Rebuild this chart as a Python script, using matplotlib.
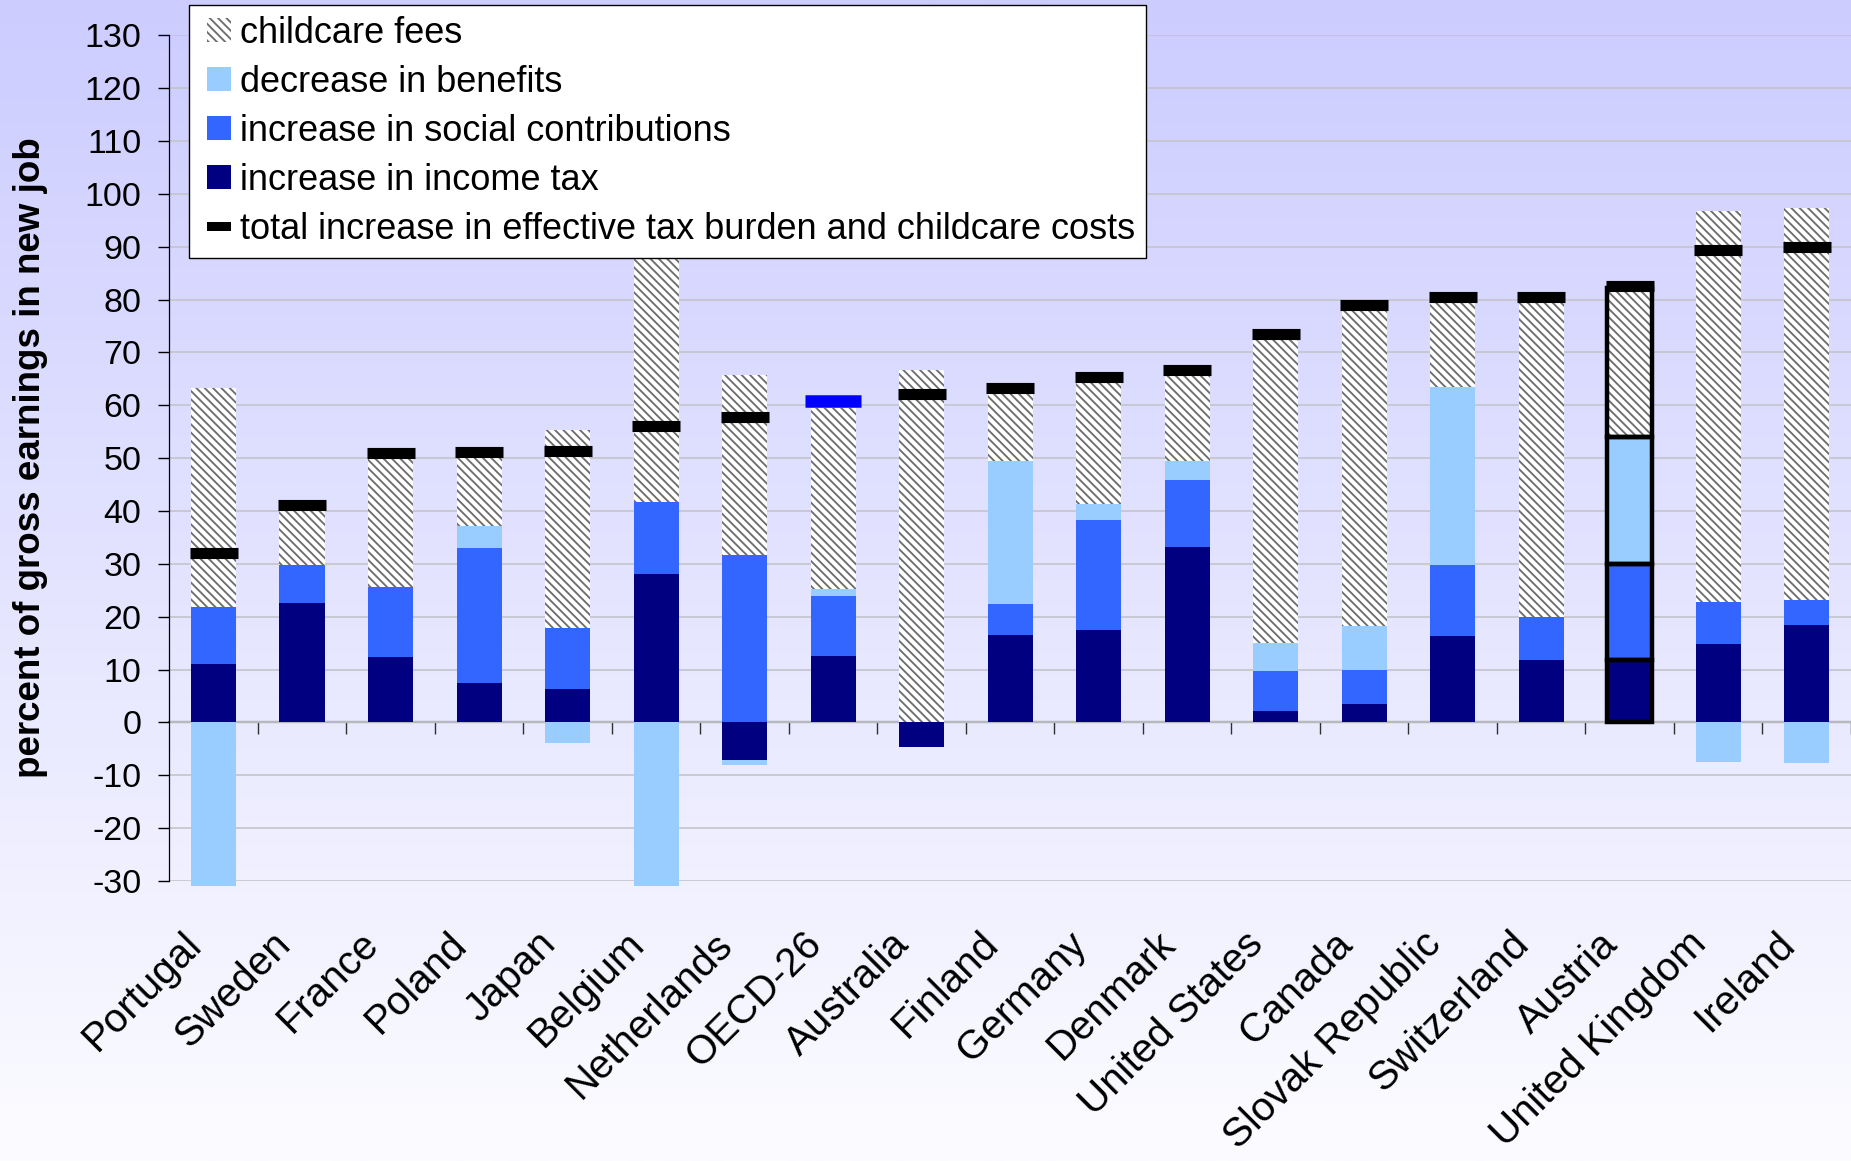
import numpy as np
import matplotlib
matplotlib.use('Agg')
import matplotlib.pyplot as plt
from matplotlib.patches import Patch, Rectangle
from matplotlib.legend_handler import HandlerPatch
from matplotlib.transforms import ScaledTranslation

plt.rcParams['font.family'] = ['Liberation Sans', 'DejaVu Sans']
plt.rcParams['hatch.linewidth'] = 1.35

# ---------------- data ----------------
countries = ['Portugal', 'Sweden', 'France', 'Poland', 'Japan', 'Belgium',
             'Netherlands', 'OECD-26', 'Australia', 'Finland', 'Germany',
             'Denmark', 'United States', 'Canada', 'Slovak Republic',
             'Switzerland', 'Austria', 'United Kingdom', 'Ireland']
income_tax = [11.0, 22.6, 12.3, 7.5, 6.4, 28.0, -7.2, 12.6, -4.7, 16.6, 17.5,
              33.2, 2.2, 3.5, 16.4, 11.9, 11.8, 14.8, 18.5]
social_contributions = [10.9, 7.1, 13.4, 25.5, 11.5, 13.7, 31.7, 11.4, 0.0, 5.8,
                        20.8, 12.7, 7.6, 6.4, 13.4, 8.1, 18.1, 7.9, 4.7]
decrease_benefits = [-31.0, 0.0, 0.0, 4.2, -3.9, -31.0, -0.9, 1.3, 0.0, 27.1,
                     3.0, 3.6, 5.3, 8.3, 33.6, 0.0, 24.1, -7.4, -7.6]
childcare_fees = [41.4, 10.4, 24.1, 13.0, 37.4, 47.8, 34.0, 34.2, 66.7, 12.8,
                  23.0, 16.0, 57.3, 59.6, 16.0, 59.4, 28.2, 74.0, 74.1]
total_increase = [32.1, 41.1, 50.9, 51.2, 51.4, 56.1, 57.7, 60.8, 62.1, 63.3,
                  65.4, 66.6, 73.5, 78.9, 80.5, 80.5, 82.6, 89.4, 89.9]
highlight_country = 'Austria'
average_country = 'OECD-26'
yticks = list(range(-30, 131, 10))

legend_labels = ['childcare fees', 'decrease in benefits',
                 'increase in social contributions', 'increase in income tax',
                 'total increase in effective tax burden and childcare costs']

# ---------------- styles ----------------
c_income = '#000080'
c_social = '#3366FF'
c_benef = '#99CCFF'
c_hatch = '#6e6e6e'
HATCH = '\\\\\\\\'

W, H = 1851, 1161
fig = plt.figure(figsize=(W / 100, H / 100), dpi=100)

# gradient background
bg = fig.add_axes([0, 0, 1, 1], zorder=-1)
top_c = np.array([204, 204, 255]) / 255
bot_c = np.array([252, 252, 255]) / 255
t = np.linspace(0, 1, 512)[:, None]
grad = (top_c[None, :] * (1 - t) + bot_c[None, :] * t)[:, None, :]
bg.imshow(grad, aspect='auto', extent=[0, 1, 0, 1], origin='upper')
bg.set_axis_off()

ax_left = 169.3 / W
ax_bottom = (H - 881.0) / H
ax_height = (881.0 - 35.3) / H
ax = fig.add_axes([ax_left, ax_bottom, 1 - ax_left, ax_height], zorder=1)
ax.patch.set_alpha(0)

n = len(countries)
x = np.arange(n)
bw = 0.51
hi = countries.index(highlight_country)
avg = countries.index(average_country)

pos = np.zeros(n)
neg = np.zeros(n)
series = [
    (income_tax, dict(color=c_income)),
    (social_contributions, dict(color=c_social)),
    (decrease_benefits, dict(color=c_benef)),
    (childcare_fees, dict(facecolor='white', edgecolor=c_hatch, hatch=HATCH)),
]
for vals, st in series:
    v = np.array(vals, dtype=float)
    bottom = np.where(v >= 0, pos, neg)
    bars = ax.bar(x, v, bottom=bottom, width=bw, linewidth=0, zorder=2, **st)
    for b in bars:
        b.set_clip_on(False)
    if v[hi] != 0:
        ax.bar(x[hi], v[hi], bottom=bottom[hi], width=bw, fill=False,
               edgecolor='black', linewidth=3.2, zorder=3)
    pos += np.where(v > 0, v, 0)
    neg += np.where(v < 0, v, 0)

tot = np.array(total_increase)
mask = np.ones(n, dtype=bool)
mask[avg] = False
ax.plot(x[mask], tot[mask], ls='none', marker='_', ms=35, mew=8,
        color='black', zorder=4)
ax.plot(x[avg], tot[avg], ls='none', marker='_', ms=41, mew=9,
        color='#0000FF', zorder=4)

# axes
ax.set_xlim(-0.5, n - 0.5)
ax.set_ylim(-30, 130)
ax.set_yticks(yticks)
ax.set_yticklabels([str(v) for v in yticks])
ax.tick_params(axis='y', direction='out', length=8, width=1, color='black',
               labelsize=24.5, pad=12)
ax.yaxis.grid(True, color='#C4C4CC', linewidth=1.2)
ax.set_axisbelow(True)
for s in ['top', 'right', 'bottom']:
    ax.spines[s].set_visible(False)
ax.spines['left'].set_color('black')
ax.spines['left'].set_linewidth(0.9)

ax.set_xticks(x)
ax.set_xticklabels(countries)
ax.tick_params(axis='x', length=0, pad=44, labelsize=29)
shift = ScaledTranslation(-18 / 100, 4 / 100, fig.dpi_scale_trans)
for lab in ax.get_xticklabels():
    lab.set_rotation(45)
    lab.set_ha('right')
    lab.set_va('center')
    lab.set_rotation_mode('anchor')
    lab.set_transform(lab.get_transform() + shift)

# zero line with category boundary ticks
sec = ax.secondary_xaxis(30 / 160)
sec.set_xticks(np.arange(0.5, n, 1))
sec.tick_params(axis='x', direction='out', length=8.5, width=1,
                color='#303030', labelbottom=False)
sec.spines['bottom'].set_color('#7f7f7f')
sec.spines['bottom'].set_linewidth(1.6)

fig.text(30.7 / W, 1 - 457.4 / H, 'percent of gross earnings in new job',
         rotation=90, ha='center', va='center', fontsize=26.5,
         fontweight='bold')


class BoxHandler(HandlerPatch):
    def __init__(self, frac_h=1.0, **kw):
        super().__init__(**kw)
        self.frac_h = frac_h

    def create_artists(self, legend, orig_handle, xdescent, ydescent,
                       width, height, fontsize, trans):
        size = height
        hh = size * self.frac_h
        x0 = -xdescent + width - size
        y0 = -ydescent + (height - hh) / 2
        p = Rectangle((x0, y0), size, hh)
        self.update_prop(p, orig_handle, legend)
        p.set_transform(trans)
        return [p]


handles = [
    Patch(facecolor='white', edgecolor=c_hatch, hatch=HATCH, linewidth=0),
    Patch(facecolor=c_benef, linewidth=0),
    Patch(facecolor=c_social, linewidth=0),
    Patch(facecolor=c_income, linewidth=0),
    Patch(facecolor='black', edgecolor='black', linewidth=0),
]
hmap = {h: BoxHandler() for h in handles[:4]}
hmap[handles[4]] = BoxHandler(frac_h=0.38)
leg = ax.legend(handles, legend_labels, loc='upper left', handler_map=hmap,
                bbox_to_anchor=((189.3 - 169.3) / (W - 169.3), (881.0 - 5) / (881.0 - 35.3)),
                borderaxespad=0, fontsize=26, frameon=True, fancybox=False,
                framealpha=1, edgecolor='black', facecolor='white',
                handlelength=0.85, handleheight=0.65, handletextpad=0.25,
                labelspacing=0.39, borderpad=0.3)
leg.get_frame().set_linewidth(1.0)
leg.set_zorder(10)

fig.savefig('out.png', dpi=100)
